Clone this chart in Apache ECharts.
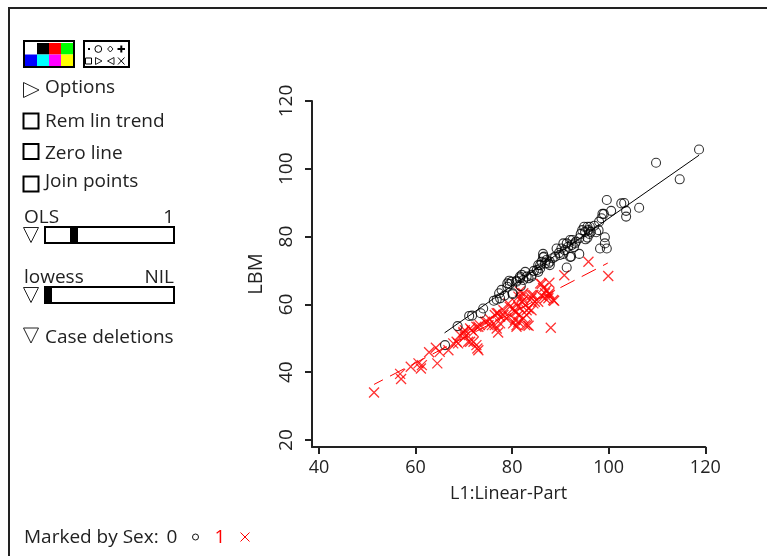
<!DOCTYPE html>
<html><head><meta charset="utf-8">
<style>html,body{margin:0;padding:0;background:#fff}#c{width:767px;height:556px}</style>
<script src="https://cdn.jsdelivr.net/npm/echarts@6/dist/echarts.min.js"></script>
</head><body><div id="c"></div>
<script>
const xTicks = [40, 60, 80, 100, 120];
const yTicks = [20, 40, 60, 80, 100, 120];
const xName = 'L1:Linear-Part';
const yName = 'LBM';
// Sex = 0: [Linear-Part, LBM]
const sexZero = [
[118.7,105.7],[109.8,101.8],[114.7,96.9],[99.6,90.8],[102.6,89.8],[103.2,89.9],[106.3,88.5],[100.5,87.6],[103.6,87.6],[103.6,85.9],
[99.2,79.8],[99.2,78],[98.2,76.5],[99.6,76.5],[93.9,74.9],[89.9,74.6],[92,74],[89.2,76.5],[97.9,81.9],[95.6,79.7],
[98.7,86.7],[99,86.7],[98.5,85.4],[98,84.4],[94.5,81.9],[94.9,82.9],[95.6,82.9],[96.1,82.9],[95.1,81.4],[95.8,81.9],
[96.3,81.4],[94.2,80.8],[96,80.8],[93.9,79.5],[93.2,78.5],[92.5,79],[92,79],[91.3,78],[90.6,78],[92.3,77.5],
[91.6,77],[90.2,76.5],[90.9,76],[90.6,74.9],[93,78],[86.4,74.9],[86.4,73.9],[87.1,73.1],[87.8,72.6],[86.1,72.6],
[85.4,71.6],[85.8,70.6],[85.1,70.1],[87.8,71.6],[86.8,72.1],[88.9,74.1],[82.7,69.6],[82,68.7],[83,68.2],[84,68.7],
[81.6,67.7],[82.3,67.2],[80.9,67],[79.4,67],[83.4,67.7],[81.8,65.4],[80.1,63],[79.5,66],[79,65.2],[68.7,53.6],
[66.1,48],[71.1,56.6],[71.7,56.7],[73.5,57.4],[74,58.8],[76.2,61.1],[77.5,61.8],[77.8,64.3],[77.3,63.3],[79.9,66.7],
[79,66.2],[80.1,63.3],[80.9,66.7],[81.6,68.2],[84,68.2],[85.4,69.6],[85.8,71.6],[86.6,74.1],[87.5,72.1],[91.3,70.9],
[92.2,74.1],[89.7,75.2],[88.4,73.6],[97,83.2],[97.4,81.3],[95.2,79.2],[92.8,76.9],[84.5,69.9],[78.4,62.6],[76.8,61.4]
];
// Sex = 1: [Linear-Part, LBM]
const sexOne = [
[95.8,72.6],[90.8,68.6],[99.9,68.4],[87.7,66.4],[86.1,66],[86.4,64.8],[88,53.1],[87.1,64.2],[87.8,62.8],[88.7,61.1],
[86.8,61.8],[87.5,61.8],[84.4,62.8],[84.7,60.8],[84,61.8],[83.4,58.8],[82.7,59.8],[82,62.3],[81.6,63.8],[82.3,63.3],
[82,60.8],[81.3,59.3],[80.9,57.8],[80.2,58.8],[79.5,59.3],[79.2,56.4],[80.9,53.9],[81.3,54.9],[80.6,55.4],[83.1,53.9],
[82.3,55.9],[83,56.9],[84,58.3],[77.1,51.7],[76.8,52.9],[77.5,54.4],[77.5,56.4],[76.8,57.4],[78.2,56.9],[76.4,53.9],
[75.8,53.9],[75.1,53.9],[74.4,54.9],[73.3,53.9],[72.6,53.4],[71.3,52.9],[72,51.9],[69.9,51.9],[69.2,51],[70.2,50.5],
[68.5,49],[67.8,48.5],[71.3,49],[72.6,48],[72.8,47],[66.8,46.5],[51.4,34],[56.8,39.5],[57,38],[59,41.6],
[60.6,42.6],[61.1,41.1],[61.3,42.1],[62.8,45.9],[64.5,42.6],[64.2,47.2],[65,46],[68.8,48.5],[70.9,49],[73,46.5],
[70.2,52.4],[71.6,52.4],[73,53.4],[82.7,53.9],[83.4,53.7],[85.8,66.2],[87.7,63.3],[88.5,61.3],[86.8,63.3],[84,62.8],
[81.3,62.3],[82.3,61.3],[80.9,60.3],[79.2,60.3],[78.2,58.3],[76.4,56.9],[77.1,57.4],[80.6,57.8],[81.3,56.9],[83,58.3],
[84.4,60.3],[85.4,60.8],[80.2,54.4],[80.9,53.4],[72,49],[69.9,51.5],[75.4,55.6],[74.8,55],[78.8,55.8],[86,62.6]
];
const trendZero = [[66.0,51.6],[118.7,104]];
const trendOne = [[51.4,36.4],[99.8,72.2]];
const colorCells = ['#ffffff','#000000','#ff0000','#00ff00','#0000ff','#00ffff','#ff00ff','#ffff00'];

const FONT = '"Open Sans", sans-serif';
const INK = '#222222';
const chart = echarts.init(document.getElementById('c'), null, {renderer:'canvas'});

function label(x, y, t, opt){
  opt = opt || {};
  return {type:'text', x:x, y:y, silent:true, z:20, style:{text:t, fill:opt.fill||INK, font:(opt.size||19)+'px '+FONT,
    textAlign:opt.align||'left', textVerticalAlign:'middle'}};
}
function rect(x,y,w,h,fill,stroke,lw){
  return {type:'rect', silent:true, z:20, shape:{x:x,y:y,width:w,height:h}, style:{fill:fill||'none', stroke:stroke||null, lineWidth:lw||0}};
}
function poly(points,lw){
  return {type:'polygon', silent:true, z:20, shape:{points:points}, style:{fill:'none', stroke:INK, lineWidth:lw||1}};
}
function seg(x1,y1,x2,y2,c,lw){
  return {type:'line', silent:true, z:20, shape:{x1:x1,y1:y1,x2:x2,y2:y2}, style:{stroke:c||INK, lineWidth:lw||1}};
}
function circ(x,y,r,c,lw){
  return {type:'circle', silent:true, z:20, shape:{cx:x,cy:y,r:r}, style:{fill:'none', stroke:c||INK, lineWidth:lw||1}};
}
const g = [];
// frame
g.push(rect(8,7,759,2,INK));
g.push(rect(8,7,2,549,INK));
// palette
colorCells.forEach((c,i)=>{ g.push(rect(25+(i%4)*12,43+Math.floor(i/4)*11.5,12,11.5,c)); });
g.push(rect(24,41,50,26,'none','#000',2));
// symbols box
g.push(rect(84,41,45,26,'none','#000',2));
g.push(rect(88,48,2,2,'#000'));
g.push(circ(98.3,49,3.4,'#000',1));
g.push(poly([[110.3,46],[113,49],[110.3,52],[107.6,49]]));
g.push(seg(117.5,49,125,49,'#000',2)); g.push(seg(121.3,45.5,121.3,52.5,'#000',2));
g.push(rect(85.5,58,6,6,'none','#000',1));
g.push(poly([[95.5,57.5],[102,61],[95.5,64.5]]));
g.push(poly([[114,57.5],[107.5,61],[114,64.5]]));
g.push(seg(118,57.5,124.5,64.5,'#000',1)); g.push(seg(124.5,57.5,118,64.5,'#000',1));
// options
g.push(poly([[23.5,82.5],[39,90],[23.5,97.5]]));
g.push(label(45,88,'Options'));
// checkboxes
g.push(rect(23.5,113.5,15,15,'none','#000',2)); g.push(label(45,122,'Rem lin trend'));
g.push(rect(23.5,144,15,15,'none','#000',2)); g.push(label(45,154,'Zero line'));
g.push(rect(23.5,176.5,15,15,'none','#000',2)); g.push(label(45,182,'Join points'));
// sliders
g.push(label(24,218,'OLS')); g.push(label(174,218,'1',{align:'right'}));
g.push(poly([[23.5,227.5],[38.5,227.5],[31,242.5]]));
g.push(rect(45,227,129,16,'none','#000',2)); g.push(rect(70,227,8,16,'#000'));
g.push(label(24,278,'lowess')); g.push(label(174,278,'NIL',{align:'right'}));
g.push(poly([[23.5,287.5],[38.5,287.5],[31,302.5]]));
g.push(rect(45,287,129,16,'none','#000',2)); g.push(rect(45,287,7,16,'#000'));
g.push(poly([[23.5,328],[38.5,328],[31,343]]));
g.push(label(45,338,'Case deletions'));
// footer legend
g.push(label(24,538,'Marked by Sex:'));
g.push(label(172,538,'0',{align:'center'}));
g.push(circ(195.5,537,3,'#111',1));
g.push(label(220,538,'1',{align:'center',fill:'#ff0000'}));
g.push(seg(240.5,532.5,249.5,541.5,'#ff0000',1)); g.push(seg(249.5,532.5,240.5,541.5,'#ff0000',1));

const axisBase = {
  type:'value', nameLocation:'middle', splitLine:{show:false},
  axisLine:{show:true, onZero:false, lineStyle:{color:INK,width:2}}
};
const CROSS = 'path://M0,0L10,10M10,0L0,10';
chart.setOption({
  animation:false,
  backgroundColor:'#fff',
  grid:{left:312, top:101, width:393.3, height:346, containLabel:false},
  xAxis:Object.assign({}, axisBase, {
    min:38.55, max:120, name:xName, nameGap:38,
    nameTextStyle:{color:INK, fontFamily:FONT, fontSize:18},
    axisTick:{show:true, length:7, lineStyle:{color:INK,width:2}, customValues:xTicks},
    axisLabel:{color:INK, fontFamily:FONT, fontSize:18, margin:12, customValues:xTicks}
  }),
  yAxis:Object.assign({}, axisBase, {
    min:17.94, max:120, name:yName, nameGap:46, nameRotate:90,
    nameTextStyle:{color:INK, fontFamily:FONT, fontSize:20},
    axisTick:{show:true, length:7, lineStyle:{color:INK,width:2}, customValues:yTicks},
    axisLabel:{color:INK, fontFamily:FONT, fontSize:19, margin:16, rotate:90, customValues:yTicks}
  }),
  series:[
    {type:'scatter', data:sexOne, symbol:CROSS, symbolSize:10, silent:true,
      itemStyle:{color:'none', borderColor:'#ff0000', borderWidth:1.3}},
    {type:'line', data:trendOne, symbol:'none', silent:true,
      lineStyle:{color:'#ff0000', width:1, type:[16,8], dashOffset:6}},
    {type:'scatter', data:sexZero, symbol:'circle', symbolSize:9, silent:true,
      itemStyle:{color:'rgba(0,0,0,0)', borderColor:'#000', borderWidth:1.1}},
    {type:'line', data:trendZero, symbol:'none', silent:true,
      lineStyle:{color:'#000', width:1}}
  ],
  graphic:{elements:g}
});
</script></body></html>
